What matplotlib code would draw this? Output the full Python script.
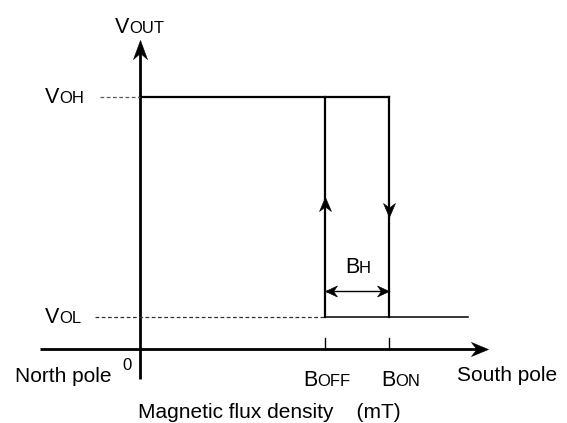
import matplotlib
matplotlib.use("Agg")
import matplotlib.pyplot as plt
from matplotlib.path import Path

plt.rcParams['font.family'] = ['Liberation Sans', 'DejaVu Sans']

# switching points (arbitrary mT units) and output levels
B_OFF = 2.92
B_ON = 3.93
V_OH = 3.98
V_OL = 0.51
vol_line_end = 5.18
hyst_arrow_y = 0.92
up_arrow_y = 2.40
down_arrow_y = 2.085
y_axis_top = 4.88
x_axis_end = 5.50

PX = 63.3  # pixels per unit on both axes

fig = plt.figure(figsize=(5.67, 4.23), dpi=100)
ax = fig.add_axes([0, 0, 1, 1])
ax.set_xlim(-140 / PX, 427 / PX)
ax.set_ylim(-74 / PX, 349 / PX)
ax.axis('off')

k = 'black'


def head(direction, length, width):
    # barbed arrow head, tip at the origin, sizes in pixels
    pts = [(0, 0), (-width / 2, -length), (0, -0.68 * length), (width / 2, -length), (0, 0)]
    rot = {'up': lambda x, y: (x, y), 'down': lambda x, y: (x, -y),
           'right': lambda x, y: (y, -x), 'left': lambda x, y: (-y, x)}[direction]
    path = Path([rot(x, y) for x, y in pts],
                [Path.MOVETO, Path.LINETO, Path.LINETO, Path.LINETO, Path.CLOSEPOLY])
    return path, 2 * max(length, width / 2) / 1.389


def draw_head(x, y, direction, length, width):
    m, s = head(direction, length, width)
    ax.plot([x], [y], marker=m, markersize=s, color=k, mew=0.4, ls='none')


# axes with arrows
ax.plot([0, 0], [-30 / PX, y_axis_top - 11 / PX], color=k, lw=2.0, solid_capstyle='butt')
draw_head(0, y_axis_top, 'up', 19, 14)
ax.plot([-100 / PX, x_axis_end - 11 / PX], [0, 0], color=k, lw=2.0, solid_capstyle='butt')
draw_head(x_axis_end, 0, 'right', 17, 14)

# output curve
ax.plot([0, B_ON], [V_OH, V_OH], color=k, lw=1.6, solid_capstyle='projecting')
ax.plot([B_OFF, B_OFF], [V_OL, V_OH], color=k, lw=1.6)
ax.plot([B_ON, B_ON], [V_OL, V_OH], color=k, lw=1.6)
ax.plot([B_OFF, vol_line_end], [V_OL, V_OL], color=k, lw=1.1)

draw_head(B_OFF, up_arrow_y, 'up', 14, 12)
draw_head(B_ON, down_arrow_y, 'down', 14, 12)

# hysteresis width
ax.plot([B_OFF, B_ON], [hyst_arrow_y, hyst_arrow_y], color=k, lw=1.0)
draw_head(B_OFF, hyst_arrow_y, 'left', 12, 11)
draw_head(B_ON, hyst_arrow_y, 'right', 12, 11)

# dashed guides
ax.plot([-0.63, 0], [V_OH, V_OH], color='0.35', lw=0.9, ls=(0, (3, 2)))
ax.plot([-0.71, B_OFF], [V_OL, V_OL], color='0.2', lw=0.9, ls=(0, (3, 2)))
for b in (B_OFF, B_ON):
    ax.plot([b, b], [0, 0.17], color=k, lw=1.0)

# labels
fs_big = 15.5
fs_small = 12


def sc_label(x, y, big, rest):
    ax.text(x, y, big, fontsize=fs_big, ha='right', va='baseline')
    ax.text(x, y, rest, fontsize=fs_small, ha='left', va='baseline')


sc_label(-0.17, 4.99, 'V', 'OUT')
sc_label(-1.28, 3.89, 'V', 'OH')
sc_label(-1.28, 0.41, 'V', 'OL')
sc_label(3.46, 1.20, 'B', 'H')
sc_label(2.80, -0.585, 'B', 'OFF')
sc_label(4.04, -0.585, 'B', 'ON')

ax.text(-0.205, -0.33, '0', fontsize=12, ha='center', va='baseline')
ax.text(-1.21, -0.52, 'North pole', fontsize=15, ha='center', va='baseline')
ax.text(5.80, -0.50, 'South pole', fontsize=15, ha='center', va='baseline')
ax.text(-0.03, -1.09, 'Magnetic flux density    (mT)', fontsize=15,
        ha='left', va='baseline')

fig.savefig('out.png', dpi=100)
